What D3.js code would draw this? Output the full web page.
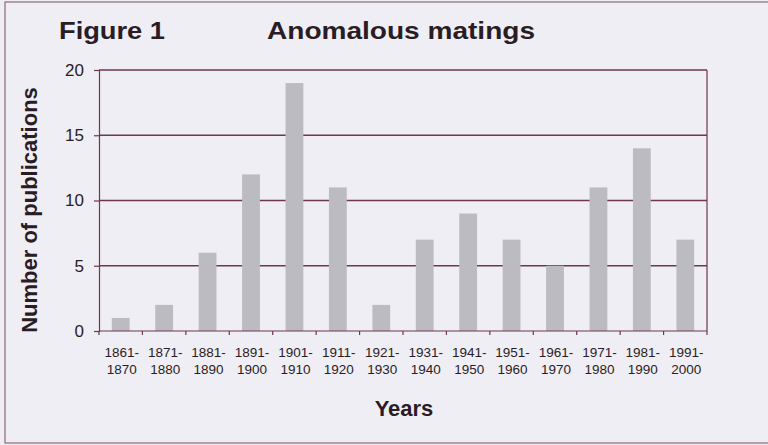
<!DOCTYPE html>
<html>
<head>
<meta charset="utf-8">
<script src="https://cdn.jsdelivr.net/npm/d3@7"></script>
<style>
  body { margin: 0; background: #efeef4; }
  svg { display: block; font-family: "Liberation Sans", Arial, sans-serif; }
</style>
</head>
<body>
<svg></svg>
<script>
var width = 768;
var height = 445;

// data
var periodStart = ['1861-', '1871-', '1881-', '1891-', '1901-', '1911-', '1921-',
    '1931-', '1941-', '1951-', '1961-', '1971-', '1981-', '1991-'];
var periodEnd = ['1870', '1880', '1890', '1900', '1910', '1920', '1930',
    '1940', '1950', '1960', '1970', '1980', '1990', '2000'];
var publications = [1, 2, 6, 12, 19, 11, 2, 7, 9, 7, 5, 11, 14, 7];
var yTicks = [0, 5, 10, 15, 20];

var ink = '#2a1c24';
var lineCol = '#6e3848';

var margin = { top: 70, right: 61, bottom: 114, left: 99 };
var plotW = width - margin.left - margin.right;
var plotH = height - margin.top - margin.bottom;

var svg = d3.select('svg')
    .attr('width', width)
    .attr('height', height);

svg.append('rect')
    .attr('width', width).attr('height', height)
    .attr('fill', '#efeef4');

// outer frame
svg.append('rect')
    .attr('x', 5).attr('y', 2)
    .attr('width', 800).attr('height', 441)
    .attr('fill', 'none')
    .attr('stroke', '#8a6a78')
    .attr('stroke-width', 1.2);

var g = svg.append('g')
    .attr('transform', 'translate(' + margin.left + ',' + margin.top + ')');

var x = d3.scaleBand()
    .domain(periodStart.map(function (d, i) { return i; }))
    .range([0, plotW])
    .paddingInner(0.59)
    .paddingOuter(0.295);

var band = d3.scaleBand()
    .domain(periodStart.map(function (d, i) { return i; }))
    .range([0, plotW]);

var y = d3.scaleLinear()
    .domain([0, 20])
    .range([plotH, 0]);

// gridlines
g.selectAll('.grid')
    .data(yTicks.filter(function (d) { return d > 0; }))
    .enter()
    .append('line')
    .attr('x1', 0).attr('x2', plotW)
    .attr('y1', function (d) { return y(d); })
    .attr('y2', function (d) { return y(d); })
    .attr('stroke', lineCol)
    .attr('stroke-width', 1.3);

// right frame
g.append('line')
    .attr('x1', plotW).attr('x2', plotW)
    .attr('y1', 0).attr('y2', plotH)
    .attr('stroke', lineCol)
    .attr('stroke-width', 1.2);

// bars
g.selectAll('.bar')
    .data(publications)
    .enter()
    .append('rect')
    .attr('x', function (d, i) { return x(i); })
    .attr('width', x.bandwidth())
    .attr('y', function (d) { return y(d); })
    .attr('height', function (d) { return y(0) - y(d); })
    .attr('fill', '#bcbbc1');

// y axis
var yAxis = g.append('g')
    .call(d3.axisLeft(y).tickValues(yTicks).tickSize(5).tickPadding(10));
yAxis.select('.domain').attr('stroke', lineCol).attr('stroke-width', 1.2);
yAxis.selectAll('.tick line').attr('stroke', lineCol).attr('stroke-width', 1.2);
yAxis.selectAll('.tick text')
    .attr('fill', ink)
    .style('font-size', '17px');

// x axis, ticks at band edges
var edges = d3.range(periodStart.length + 1).map(function (i) {
    return i < periodStart.length ? band(i) : plotW;
});
g.append('line')
    .attr('x1', 0).attr('x2', plotW)
    .attr('y1', plotH).attr('y2', plotH)
    .attr('stroke', lineCol)
    .attr('stroke-width', 1.2);
g.selectAll('.xtick')
    .data(edges)
    .enter()
    .append('line')
    .attr('x1', function (d) { return d; })
    .attr('x2', function (d) { return d; })
    .attr('y1', plotH).attr('y2', plotH + 4)
    .attr('stroke', lineCol)
    .attr('stroke-width', 1.2);

var labels = g.selectAll('.xlab')
    .data(periodStart)
    .enter()
    .append('text')
    .attr('text-anchor', 'middle')
    .attr('fill', ink)
    .style('font-size', '13.5px')
    .attr('transform', function (d, i) {
        return 'translate(' + (band(i) + band.bandwidth() / 2 + 1) + ',' + (plotH + 26) + ')';
    });
labels.append('tspan')
    .attr('x', 0).attr('y', 0)
    .text(function (d) { return d; });
labels.append('tspan')
    .attr('x', 0).attr('y', 16.5)
    .text(function (d, i) { return periodEnd[i]; });

// titles
svg.append('text')
    .attr('x', 59).attr('y', 39)
    .attr('fill', ink)
    .style('font-size', '24px')
    .style('font-weight', 'bold')
    .attr('textLength', 106)
    .attr('lengthAdjust', 'spacingAndGlyphs')
    .text('Figure 1');

svg.append('text')
    .attr('x', 267).attr('y', 39)
    .attr('fill', ink)
    .style('font-size', '24px')
    .style('font-weight', 'bold')
    .attr('textLength', 268)
    .attr('lengthAdjust', 'spacingAndGlyphs')
    .text('Anomalous matings');

svg.append('text')
    .attr('x', 404).attr('y', 416)
    .attr('text-anchor', 'middle')
    .attr('fill', ink)
    .style('font-size', '22px')
    .style('font-weight', 'bold')
    .text('Years');

svg.append('text')
    .attr('transform', 'translate(37,210) rotate(-90)')
    .attr('text-anchor', 'middle')
    .attr('fill', ink)
    .style('font-size', '22px')
    .style('font-weight', 'bold')
    .text('Number of publications');
</script>
</body>
</html>
